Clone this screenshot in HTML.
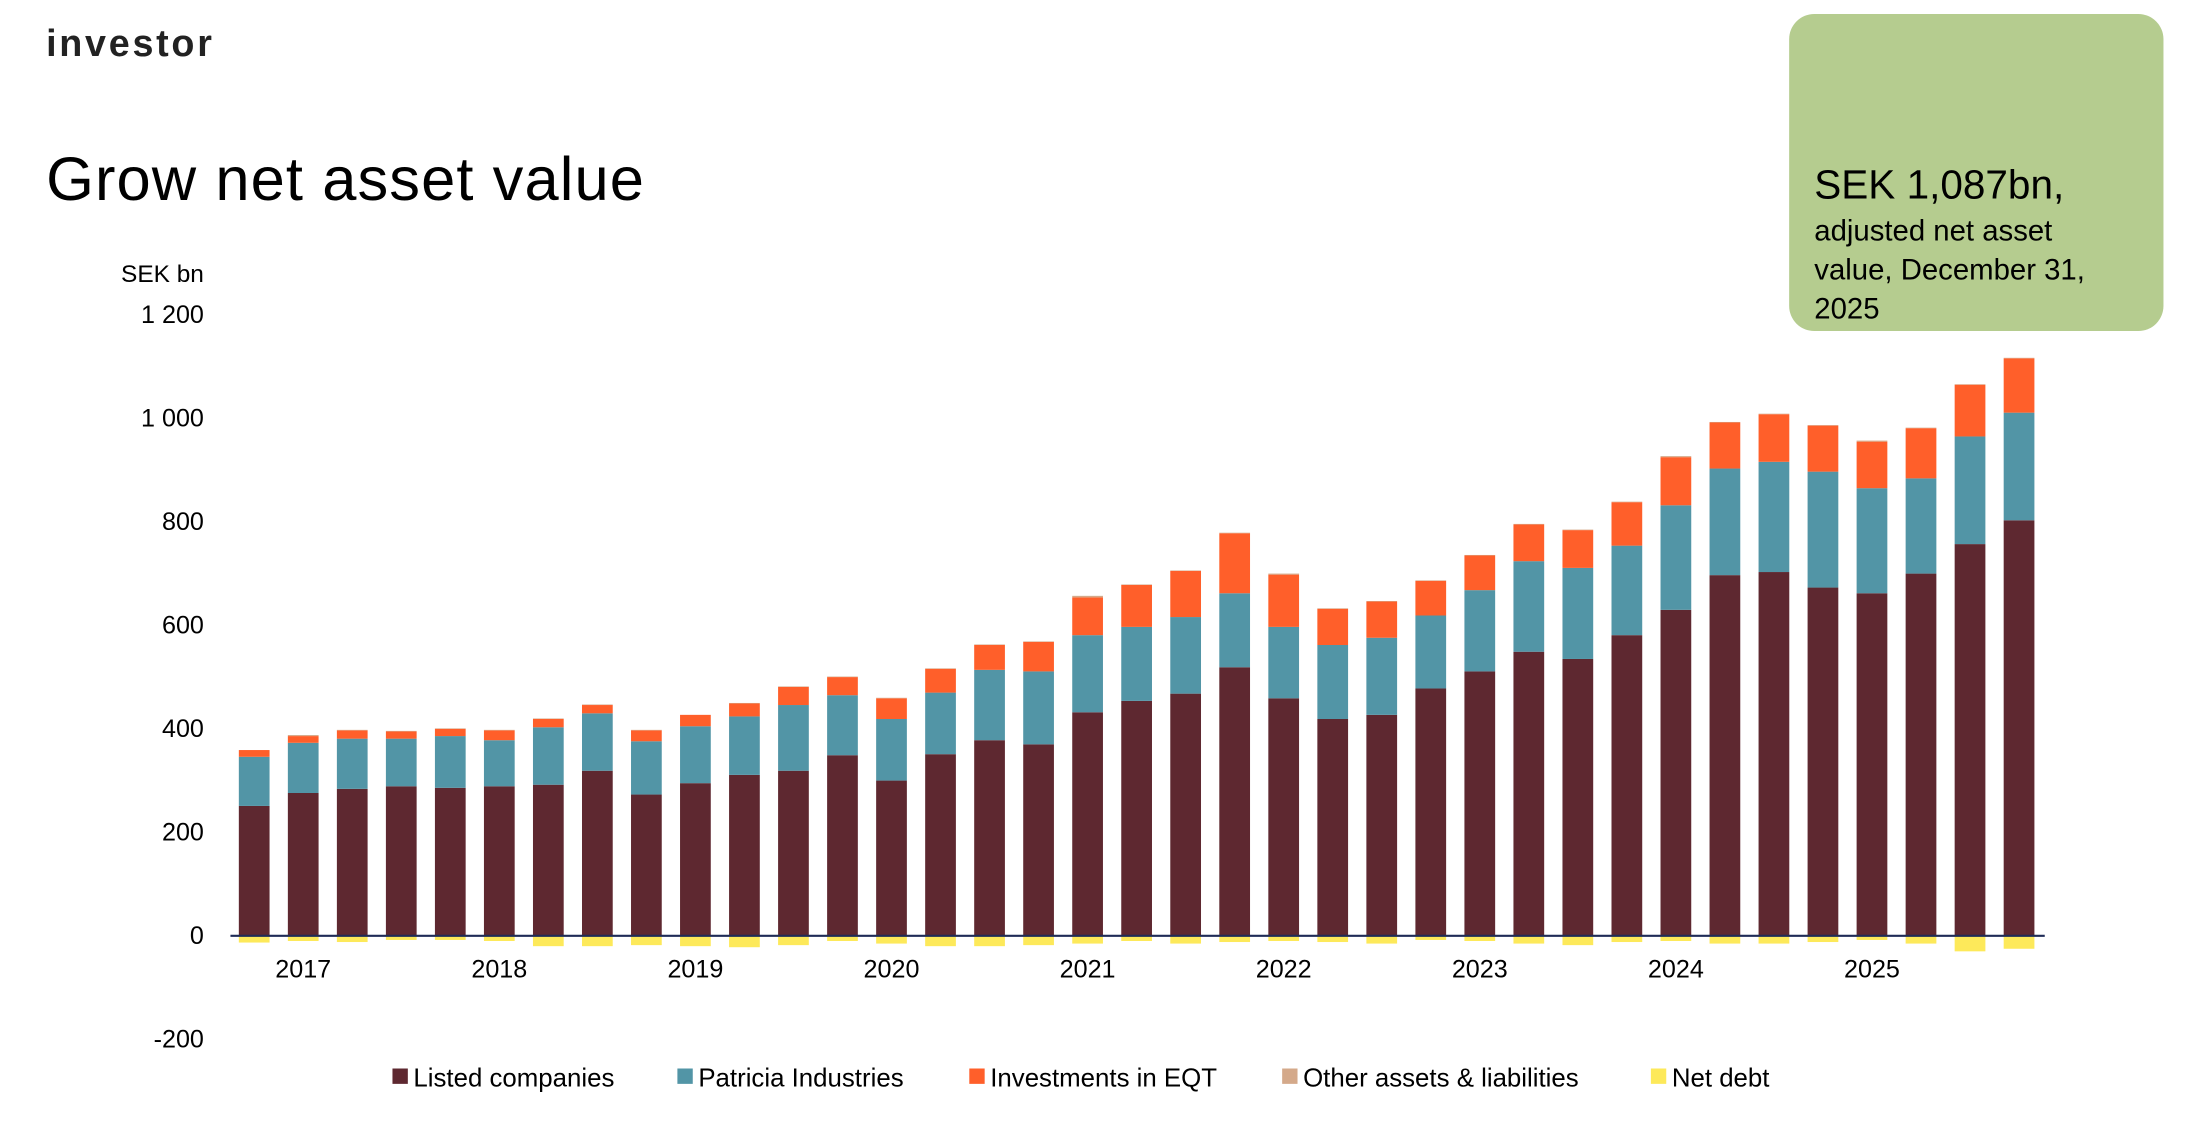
<!DOCTYPE html>
<html><head><meta charset="utf-8"><style>
html,body{margin:0;padding:0;background:#fff;width:2190px;height:1130px;overflow:hidden}
svg{display:block;font-family:"Liberation Sans",sans-serif}
</style></head><body>
<svg id="chart" width="2190" height="1130" viewBox="0 0 1568 809" xmlns="http://www.w3.org/2000/svg">
<text x="33" y="40" font-size="27" font-weight="bold" letter-spacing="1.3" fill="#222" textLength="120">investor</text>
<text x="33" y="143" font-size="44" fill="#000" textLength="428">Grow net asset value</text>
<text x="146" y="202" font-size="17.5" text-anchor="end" fill="#000">SEK bn</text>
<g>
<rect x="1281" y="10" width="268" height="227" rx="18" fill="#b5cc8f"/>
<text x="1299" y="142" font-size="29" fill="#000">SEK 1,087bn,</text>
<text x="1299" y="172" font-size="21" fill="#000">adjusted net asset</text>
<text x="1299" y="200" font-size="21" fill="#000">value, December 31,</text>
<text x="1299" y="228" font-size="21" fill="#000">2025</text>
</g>
<g id="plot"></g>
<g id="legend"></g>
</svg>
<script>
const years=["2017","2018","2019","2020","2021","2022","2023","2024","2025"];
const listed=[251,276,284,289,286,289,292,319,273,295,311,319,349,300,351,378,370,432,454,468,519,459,419,427,478,511,549,535,581,630,697,703,673,662,700,757,803];
const patricia=[95,97,97,92,100,89,111,111,103,110,113,127,116,119,119,136,141,149,143,148,143,138,143,149,141,157,175,176,173,202,206,213,224,203,184,208,208];
const eqt=[13,13,16,14,14,19,16,16,21,22,25,35,35,40,46,48,57,73,81,89,116,101,70,70,67,67,71,73,84,93,89,92,89,90,97,100,105];
const other=[0,2,1,1,1,1,1,1,1,0,1,1,1,1,1,1,1,3,1,1,1,2,1,1,1,1,1,1,1,2,1,1,1,2,1,1,1];
const netDebt=[-13,-10,-12,-8,-8,-10,-20,-20,-18,-20,-22,-18,-10,-15,-20,-20,-18,-15,-10,-15,-12,-10,-12,-15,-8,-10,-15,-18,-12,-10,-15,-15,-12,-8,-15,-30,-25];
const yTicks=[-200,0,200,400,600,800,1000,1200];
const seriesNames=["Listed companies","Patricia Industries","Investments in EQT","Other assets & liabilities","Net debt"];
const colors=["#5e2830","#5295a6","#ff5f2a","#d4a98a","#fde95a"];
const NS="http://www.w3.org/2000/svg";
const y0=670, k=0.3705;
const yScale=v=>y0-v*k;
const xScale=i=>182+i*35.1;
const bw=22;
const plot=document.getElementById('plot');
function mk(t,a,p){const e=document.createElementNS(NS,t);for(const n in a)e.setAttribute(n,a[n]);(p||plot).appendChild(e);return e;}
yTicks.forEach(v=>{const t=mk('text',{x:146,y:yScale(v)+6,'font-size':18,'text-anchor':'end',fill:'#000'});t.textContent=v<0?String(v):v.toLocaleString('en').replace(/,/g,' ');

});
const stacks=[listed,patricia,eqt,other];
for(let i=0;i<listed.length;i++){let base=0;
stacks.forEach((s,j)=>{const v=s[i];if(v<=0)return;const r=mk('rect',{x:xScale(i)-bw/2,y:yScale(base+v),width:bw,height:v*k,fill:colors[j]});

base+=v;});
const d=netDebt[i];const r=mk('rect',{x:xScale(i)-bw/2,y:y0,width:bw,height:-d*k,fill:colors[4]});

}
const ax=mk('line',{x1:165,x2:1464,y1:y0,y2:y0,stroke:'#1f2b57','stroke-width':1.5});


years.forEach((yr,i)=>{const t=mk('text',{x:xScale(1+4*i),y:700,'font-size':18,'text-anchor':'middle',fill:'#000'});t.textContent=yr;

});
const lg=document.getElementById('legend');
const lx=[281,485,694,918,1182];
seriesNames.forEach((n,i)=>{const g=mk('g',{},lg);


mk('rect',{x:lx[i],y:765,width:11,height:11,fill:colors[i]},g);
const t=mk('text',{x:lx[i]+15,y:778,'font-size':18.5,fill:'#000'},g);t.textContent=n;});
</script>
</body></html>
